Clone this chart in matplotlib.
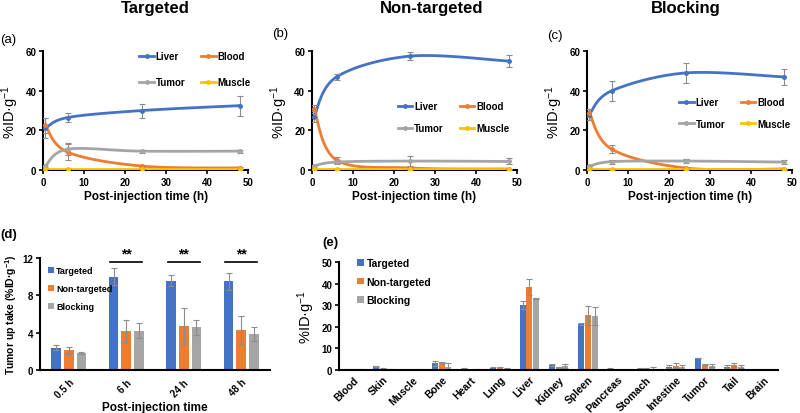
import matplotlib
matplotlib.use("Agg")
import matplotlib.pyplot as plt
import numpy as np
from matplotlib.lines import Line2D

plt.rcParams['font.family'] = ['Liberation Sans', 'DejaVu Sans']
plt.rcParams['font.weight'] = 'bold'
plt.rcParams['axes.labelweight'] = 'bold'
plt.rcParams['mathtext.default'] = 'regular'

BLUE = '#4472C4'
ORANGE = '#ED7D31'
GRAY = '#A5A5A5'
YELLOW = '#FFC000'
ERR = '#8c8c8c'

# ---------------- data ----------------
times = [0.5, 6, 24, 48]

# (a) Targeted
a_liver = [21, 26.5, 30, 32.5]
a_liver_err = [5, 2.5, 3.5, 5]
a_blood = [22.5, 9, 2, 1]
a_blood_err = [4, 4, 0.5, 0.3]
a_tumor = [2, 10.5, 9.5, 9.5]
a_tumor_err = [0.5, 3, 0.8, 0.8]
a_muscle = [0.5, 0.5, 0.5, 0.5]
a_muscle_err = [0.2, 0.2, 0.2, 0.2]

# (b) Non-targeted
b_liver = [27, 47, 57.5, 55]
b_liver_err = [3, 1.5, 2, 3]
b_blood = [31, 5, 1, 0.5]
b_blood_err = [2, 1.5, 0.3, 0.2]
b_tumor = [2, 4, 4.5, 4.3]
b_tumor_err = [0.5, 1, 2.5, 1.5]
b_muscle = [0.3, 0.3, 0.3, 0.3]
b_muscle_err = [0.1, 0.1, 0.1, 0.1]

# (c) Blocking
c_liver = [28, 40, 49, 47]
c_liver_err = [3, 5, 5, 4]
c_blood = [29, 10.5, 1, 0.5]
c_blood_err = [2, 2, 0.3, 0.2]
c_tumor = [1.8, 4.2, 4.5, 4]
c_tumor_err = [0.5, 1, 1, 1]
c_muscle = [0.3, 0.3, 0.3, 0.3]
c_muscle_err = [0.1, 0.1, 0.1, 0.1]

# (d) tumour uptake
d_labels = ['0.5 h', '6 h', '24 h', '48 h']
d_targeted = [2.4, 10, 9.6, 9.5]
d_targeted_err = [0.3, 0.9, 0.6, 0.9]
d_nontargeted = [2.1, 4.15, 4.7, 4.3]
d_nontargeted_err = [0.4, 1.2, 2.0, 1.5]
d_blocking = [1.85, 4.2, 4.6, 3.85]
d_blocking_err = [0.1, 0.8, 0.8, 0.75]

# (e) biodistribution
organs = ['Blood', 'Skin', 'Muscle', 'Bone', 'Heart', 'Lung', 'Liver', 'Kidney',
          'Spleen', 'Pancreas', 'Stomach', 'Intestine', 'Tumor', 'Tail', 'Brain']
e_targeted = [0.3, 1.6, 0.1, 3.0, 0.6, 0.7, 30.0, 2.2, 21.2, 0.6, 0.5, 1.5, 5.5, 1.5, 0.0]
e_targeted_err = [0.1, 0.2, 0.05, 1.0, 0.1, 0.6, 2.0, 0.5, 0.5, 0.1, 0.2, 0.8, 0.2, 0.7, 0.0]
e_nontargeted = [0.3, 0.6, 0.1, 3.5, 0.1, 0.7, 38.4, 1.2, 25.2, 0.1, 0.5, 2.0, 2.5, 2.2, 0.0]
e_nontargeted_err = [0.1, 0.2, 0.05, 0.3, 0.05, 0.5, 3.5, 0.3, 4.3, 0.05, 0.2, 1.3, 0.3, 1.0, 0.0]
e_blocking = [0.3, 0.4, 0.3, 1.5, 0.3, 0.6, 33.2, 1.8, 25.0, 0.1, 0.6, 1.5, 2.0, 1.5, 0.0]
e_blocking_err = [0.1, 0.1, 0.1, 1.5, 0.1, 0.3, 0.3, 1.0, 4.3, 0.05, 0.6, 1.0, 0.8, 0.8, 0.0]


def smooth(x, y, sx, sy, n=40):
    # Excel-like smoothed line (cubic Bezier, tension 1/6) in scaled coords
    p = np.column_stack([np.asarray(x, float) * sx, np.asarray(y, float) * sy])
    pts = []
    for i in range(len(p) - 1):
        p0 = p[max(i - 1, 0)]
        p1 = p[i]
        p2 = p[i + 1]
        p3 = p[min(i + 2, len(p) - 1)]
        c1 = p1 + (p2 - p0) / 6
        c2 = p2 - (p3 - p1) / 6
        t = np.linspace(0, 1, n)[:, None]
        seg = ((1 - t) ** 3) * p1 + 3 * ((1 - t) ** 2) * t * c1 + 3 * (1 - t) * t ** 2 * c2 + t ** 3 * p2
        pts.append(seg)
    pts = np.vstack(pts)
    return pts[:, 0] / sx, pts[:, 1] / sy


def style_axes(ax, size=7):
    for s in ['top', 'right']:
        ax.spines[s].set_visible(False)
    for s in ['left', 'bottom']:
        ax.spines[s].set_linewidth(1.5)
    ax.tick_params(labelsize=size, width=1.2, length=3, pad=2)
    for lab in ax.get_xticklabels() + ax.get_yticklabels():
        lab.set_fontweight('bold')


fig = plt.figure(figsize=(8, 4.14), dpi=100)

# rect, title, title x(px), tag, tag pos(px), series, legend anchor, labelspacing
line_axes = [
    ([0.054, 0.587, 0.256, 0.287], 'Targeted', 155, '(a)', (0, 40),
     [(a_liver, a_liver_err, BLUE), (a_blood, a_blood_err, ORANGE),
      (a_tumor, a_tumor_err, GRAY), (a_muscle, a_muscle_err, YELLOW)], (0.45, 1.03), 1.6),
    ([0.39, 0.587, 0.256, 0.287], 'Non-targeted', 432, '(b)', (272, 34),
     [(b_liver, b_liver_err, BLUE), (b_blood, b_blood_err, ORANGE),
      (b_tumor, b_tumor_err, GRAY), (b_muscle, b_muscle_err, YELLOW)], (0.40, 0.61), 1.2),
    ([0.734, 0.587, 0.256, 0.287], 'Blocking', 686, '(c)', (547, 36),
     [(c_liver, c_liver_err, BLUE), (c_blood, c_blood_err, ORANGE),
      (c_tumor, c_tumor_err, GRAY), (c_muscle, c_muscle_err, YELLOW)], (0.43, 0.645), 1.2),
]
names = ['Liver', 'Blood', 'Tumor', 'Muscle']

for rect, title, tx, tag, tpos, series, leg_pos, lsp in line_axes:
    ax = fig.add_axes(rect)
    for vals, errs, col in series:
        xs, ys = smooth(times, vals, 205 / 50, 119 / 60)
        ax.plot(xs, ys, color=col, lw=2, zorder=3)
        ax.errorbar(times, vals, yerr=errs, fmt='o', ms=2.5, color=col,
                    ecolor=ERR, elinewidth=0.8, capsize=2.5, capthick=0.8, zorder=4)
    ax.set_xlim(0, 50)
    ax.set_ylim(0, 60)
    ax.set_xticks([0, 10, 20, 30, 40, 50])
    ax.set_yticks([0, 20, 40, 60])
    ax.set_xlabel('Post-injection time (h)', fontsize=8.5, fontweight='bold', labelpad=2)
    ax.set_ylabel(r'%ID·g$^{-1}$', fontsize=10.5, fontweight='normal', labelpad=3)
    style_axes(ax)
    handles = [Line2D([0], [0], color=c, lw=2, marker='o', ms=2.5) for _, _, c in series]
    order = [0, 2, 1, 3]
    ax.legend([handles[i] for i in order], [names[i] for i in order], ncol=2,
              loc='upper left', bbox_to_anchor=leg_pos, frameon=False,
              prop={'size': 7, 'weight': 'bold'}, handlelength=1.5,
              columnspacing=1.6, labelspacing=lsp, handletextpad=0.2,
              borderaxespad=0)
    fig.text(tx / 800, 1 - 9 / 414, title, fontsize=12, fontweight='bold',
             ha='center', va='center')
    fig.text(tpos[0] / 800, 1 - tpos[1] / 414, tag, fontsize=9.5, fontweight='normal',
             va='center')

# (d)
axd = fig.add_axes([0.05, 0.104, 0.2875, 0.27])
xd = np.arange(len(d_labels))
w = 0.17
step = 0.22
ekw = dict(ecolor=ERR, elinewidth=0.8, capsize=2, capthick=0.8)
axd.bar(xd - step, d_targeted, w, yerr=d_targeted_err, color=BLUE, label='Targeted', error_kw=ekw)
axd.bar(xd, d_nontargeted, w, yerr=d_nontargeted_err, color=ORANGE, label='Non-targeted', error_kw=ekw)
axd.bar(xd + step, d_blocking, w, yerr=d_blocking_err, color=GRAY, label='Blocking', error_kw=ekw)
axd.set_xlim(-0.5, len(d_labels) - 0.5)
axd.set_ylim(0, 12)
axd.set_yticks([0, 4, 8, 12])
axd.set_xticks(xd)
axd.set_xticklabels(d_labels, rotation=45, ha='right', rotation_mode='anchor')
style_axes(axd)
axd.tick_params(axis='x', length=0, pad=5)
axd.set_xlabel('Post-injection time', fontsize=8.5, fontweight='bold', labelpad=1)
axd.set_ylabel(r'Tumor up take (%ID·g$^{-1}$)', fontsize=7.5, fontweight='bold', labelpad=2)
for i in [1, 2, 3]:
    axd.plot([i - 0.28, i + 0.28], [11.6, 11.6], color='black', lw=1.2, clip_on=False)
    axd.text(i, 11.8, '**', ha='center', va='bottom', fontsize=10, fontweight='bold')
axd.legend(loc='upper left', bbox_to_anchor=(0.0, 1.0), frameon=False,
           prop={'size': 6.5, 'weight': 'bold'}, handlelength=0.6, handleheight=0.6,
           labelspacing=1.0, handletextpad=0.3)
fig.text(0.0, 1 - 235 / 414, '(d)', fontsize=9.5, va='center')

# (e)
axe = fig.add_axes([0.424, 0.104, 0.5485, 0.261])
xe = np.arange(len(organs))
we = 0.2
se = 0.23
axe.bar(xe - se, e_targeted, we, yerr=e_targeted_err, color=BLUE, label='Targeted', error_kw=ekw)
axe.bar(xe, e_nontargeted, we, yerr=e_nontargeted_err, color=ORANGE, label='Non-targeted', error_kw=ekw)
axe.bar(xe + se, e_blocking, we, yerr=e_blocking_err, color=GRAY, label='Blocking', error_kw=ekw)
axe.set_xlim(-0.5, len(organs) - 0.5)
axe.set_ylim(0, 50)
axe.set_yticks([0, 10, 20, 30, 40, 50])
axe.set_xticks(xe)
axe.set_xticklabels(organs, rotation=45, ha='right', rotation_mode='anchor')
style_axes(axe)
axe.tick_params(axis='x', length=0, labelsize=7.5, pad=3)
axe.set_ylabel(r'%ID·g$^{-1}$', fontsize=10.5, fontweight='normal', labelpad=3)
axe.legend(loc='upper left', bbox_to_anchor=(0.02, 1.12), frameon=False,
           prop={'size': 7.5, 'weight': 'bold'}, handlelength=0.6, handleheight=0.6,
           labelspacing=0.8, handletextpad=0.3)
fig.text(322 / 800, 1 - 243 / 414, '(e)', fontsize=9.5, va='center')

fig.savefig('out.png', dpi=100)
